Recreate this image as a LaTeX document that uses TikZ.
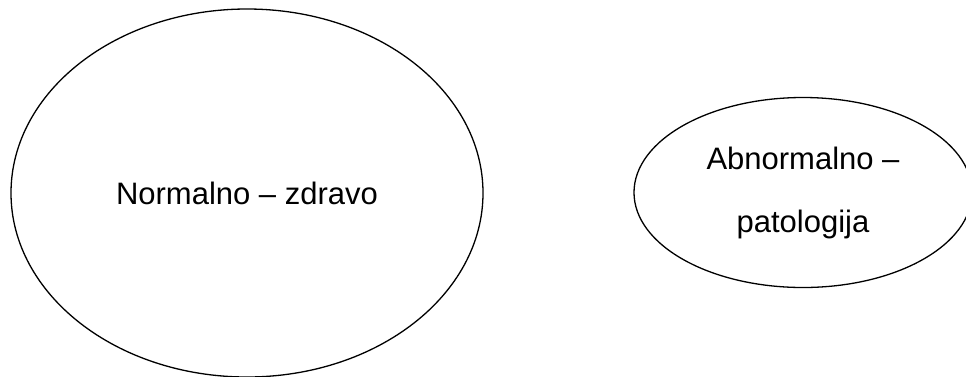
\documentclass[tikz,border=0pt]{standalone}
\usepackage{fontspec}
\setmainfont{Liberation Sans}
\usetikzlibrary{shapes.geometric}

\tikzset{
  area/.style={ellipse, draw=black, line width=1.3pt, inner sep=0pt, align=center,
    font=\fontsize{31}{63}\selectfont}
}

\begin{document}
\begin{tikzpicture}[x=1pt,y=-1pt]
        % Canvas
        \useasboundingbox (0,0) rectangle (966,376);
        \clip (0,0) rectangle (966,376);
        
        % Healthy region
        \node[area, minimum width=472pt, minimum height=368pt] (normal) at (247,193) {Normalno -- zdravo};
        
        % Pathology region
        \node[area, minimum width=338pt, minimum height=190pt] (abnormal) at (803,192.5) {Abnormalno --\\ patologija};
    \end{tikzpicture}
\end{document}
